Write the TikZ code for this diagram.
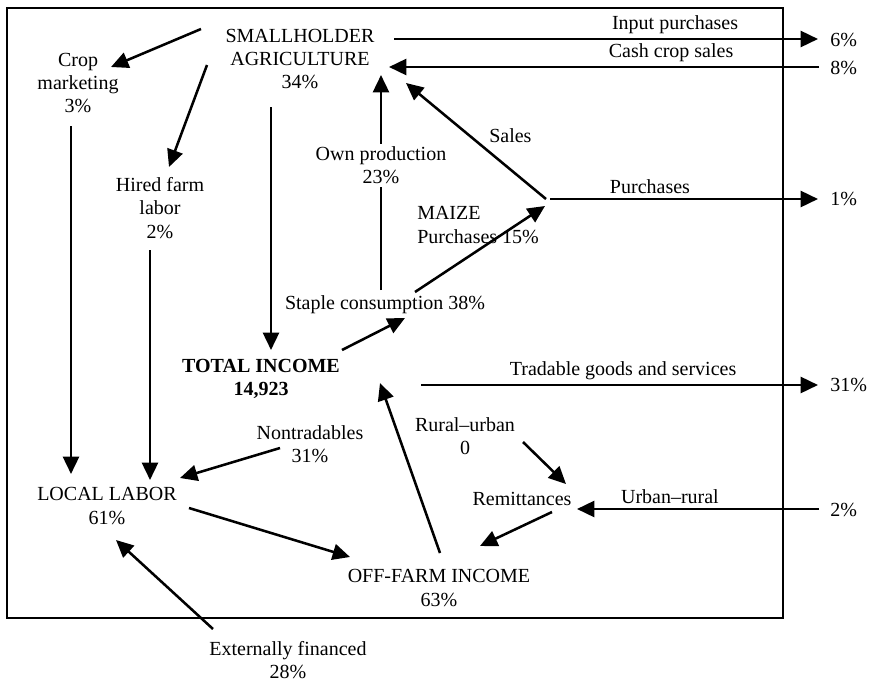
\documentclass[tikz,border=0pt]{standalone}
\usepackage{fontspec}
\setmainfont{Liberation Serif}
\usetikzlibrary{arrows.meta}

\begin{document}
\begin{tikzpicture}[x=0.75pt,y=-0.75pt,
  every node/.style={font=\fontsize{15}{17.6}\selectfont,inner sep=0pt,align=center},
  arr/.style={line width=1.9pt,-{Triangle[length=13pt,width=12pt]}},
  lbl/.style={above=3pt}]
\useasboundingbox (0,0) rectangle (872,682);
\draw[line width=2pt] (7,8) rectangle (783,618);

\node (small) at (300,59) {SMALLHOLDER\\AGRICULTURE\\34\%};
\node (crop) at (78,83) {Crop\\marketing\\3\%};
\node (hired) at (160,208) {Hired farm\\labor\\2\%};
\node[anchor=west,align=left] (maize) at (417,225) {MAIZE\\Purchases 15\%};
\node (staple) at (385,305) {Staple consumption 38\%};
\node[font=\fontsize{15}{17.6}\selectfont\bfseries] (total) at (261,379) {TOTAL INCOME\\14,923};
\node (local) at (107,506) {LOCAL LABOR\\61\%};
\node (nontr) at (310,444) {Nontradables\\31\%};
\node (ext) at (288,660) {Externally financed\\28\%};
\node (off) at (439,588) {OFF-FARM INCOME\\63\%};
\node (rural) at (465,436) {Rural--urban\\0};
\node (remit) at (522,499) {Remittances};
\node[anchor=west] (pct6) at (830,40) {6\%};
\node[anchor=west] (pct8) at (830,68) {8\%};
\node[anchor=west] (pct1) at (830,199) {1\%};
\node[anchor=west] (pct31) at (830,385) {31\%};
\node[anchor=west] (pct2) at (830,510) {2\%};
\coordinate (hub) at (546,199);

\draw[arr] ([shift={(-99,-30)}]small.center) -- ([shift={(33,-16)}]crop.center);
\draw[arr] ([shift={(-93,6)}]small.center) -- ([shift={(9,-41)}]hired.center);
\draw[arr] ([shift={(-7,43)}]crop.center) -- ([shift={(-36,-32)}]local.center);
\draw[arr] ([shift={(-10,42)}]hired.center) -- ([shift={(43,-26)}]local.center);
\draw[arr] ([shift={(-29,48)}]small.center) -- ([shift={(10,-29)}]total.center);
\draw[arr] ([shift={(-4,-15)}]staple.center) -- ([shift={(81,16)}]small.center)
  node[pos=.58,fill=white,inner ysep=2pt] (own) {Own production\\23\%};
\draw[arr] (hub) -- ([shift={(106,24)}]small.center)
  node[midway,anchor=west,shift={(12,-5)}] (sales) {Sales};
\draw[arr] ([shift={(94,-20)}]small.center) -- ([shift={(-12,-1)}]pct6.west)
  node[pos=.663,lbl] (inp) {Input purchases};
\draw[arr] ([shift={(-11,-1)}]pct8.west) -- ([shift={(89,8)}]small.center)
  node[pos=.344,lbl] (cash) {Cash crop sales};
\draw[arr] ([shift={(4,0)}]hub) -- ([shift={(-12,0)}]pct1.west)
  node[pos=.373,lbl] (purch) {Purchases};
\draw[arr] ([shift={(30,-13)}]staple.center) -- ([shift={(-1,7)}]hub);
\draw[arr] ([shift={(81,-29)}]total.center) -- ([shift={(20,13)}]staple.center);
\draw[arr] ([shift={(160,6)}]total.center) -- ([shift={(-12,0)}]pct31.west)
  node[pos=.509,lbl] (trad) {Tradable goods and services};
\draw[arr] ([shift={(-30,4)}]nontr.center) -- ([shift={(73,-28)}]local.center);
\draw[arr] ([shift={(82,2)}]local.center) -- ([shift={(-89,-31)}]off.center);
\draw[arr] ([shift={(-75,-31)}]ext.center) -- ([shift={(9,34)}]local.center);
\draw[arr] ([shift={(1,-35)}]off.center) -- ([shift={(119,4)}]total.center);
\draw[arr] ([shift={(58,6)}]rural.center) -- ([shift={(44,-15)}]remit.center);
\draw[arr] ([shift={(30,13)}]remit.center) -- ([shift={(41,-42)}]off.center);
\draw[arr] ([shift={(-11,-1)}]pct2.west) -- ([shift={(55,10)}]remit.center)
  node[pos=.616,lbl] (urb) {Urban--rural};
\end{tikzpicture}
\end{document}
